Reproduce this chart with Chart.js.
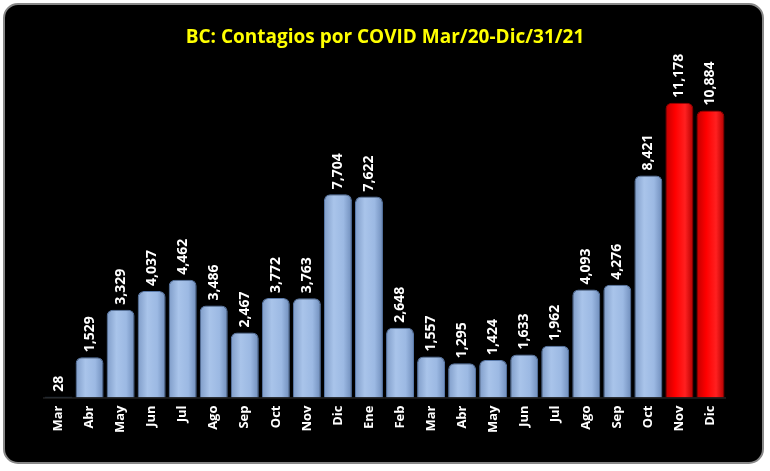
<!DOCTYPE html>
<html><head><meta charset="utf-8">
<script src="https://cdn.jsdelivr.net/npm/chart.js@4/dist/chart.umd.min.js"></script>
<style>html,body{margin:0;padding:0;background:#fff}</style>
</head><body><canvas id="c" width="770" height="471"></canvas>
<script>
const categories=["Mar","Abr","May","Jun","Jul","Ago","Sep","Oct","Nov","Dic","Ene","Feb","Mar","Abr","May","Jun","Jul","Ago","Sep","Oct","Nov","Dic"];
const cases=[28,1529,3329,4037,4462,3486,2467,3772,3763,7704,7622,2648,1557,1295,1424,1633,1962,4093,4276,8421,11178,10884];
const highlighted=[20,21];
const titleText="BC: Contagios por COVID Mar/20-Dic/31/21";

const bg={id:'bg',beforeDraw(ch){const x=ch.ctx;x.save();x.fillStyle='#fff';x.fillRect(0,0,ch.width,ch.height);
x.beginPath();x.roundRect(4,4,759,459,14);x.fillStyle='#000';x.fill();x.lineWidth=2;x.strokeStyle='#888';x.stroke();
x.fillStyle='#ffff00';x.font='bold 19px "Open Sans"';x.textAlign='center';x.textBaseline='middle';x.fillText(titleText,385,38);
const a=ch.chartArea;x.strokeStyle='#333';x.lineWidth=1;x.beginPath();x.moveTo(a.left,a.bottom+0.5);x.lineTo(a.right,a.bottom+0.5);x.stroke();x.restore();}};
const lbl={id:'lbl',afterDatasetsDraw(ch){const x=ch.ctx;const m=ch.getDatasetMeta(0);x.save();x.fillStyle='#fff';x.font='bold 14px "Open Sans"';x.textAlign='left';x.textBaseline='middle';
m.data.forEach((b,i)=>{x.save();x.translate(b.x,b.y-5);x.rotate(-Math.PI/2);x.fillText(cases[i].toLocaleString('en-US'),0,0);x.restore();});x.restore();}};

function fill(ctx){const ch=ctx.chart;const i=ctx.dataIndex;const sc=ch.scales&&ch.scales.x;
const hi=highlighted.includes(i);
if(!ch.chartArea||!sc||i===undefined)return hi?'#ff0000':'#95b3d7';
const cx=sc.getPixelForValue(i);const w=28;if(!isFinite(cx))return hi?'#ff0000':'#95b3d7';
const g=ch.ctx.createLinearGradient(cx-w/2,0,cx+w/2,0);
if(hi){g.addColorStop(0,'#c00000');g.addColorStop(0.35,'#ff0000');g.addColorStop(0.7,'#ff2020');g.addColorStop(1,'#b00000');}
else{g.addColorStop(0,'#7f9cc8');g.addColorStop(0.35,'#a9c4ea');g.addColorStop(0.7,'#9cb9e3');g.addColorStop(1,'#6f8dbb');}return g;}

new Chart(document.getElementById('c'),{type:'bar',
data:{labels:categories,datasets:[{data:cases,backgroundColor:fill,borderColor:ctx=>highlighted.includes(ctx.dataIndex)?'#900':'#5a7aaa',borderWidth:1,borderRadius:{topLeft:6,topRight:6},borderSkipped:'bottom',barPercentage:0.9,categoryPercentage:1}]},
options:{responsive:false,animation:false,devicePixelRatio:1,
layout:{padding:{left:43,right:44,top:81,bottom:30}},
plugins:{legend:{display:false},tooltip:{enabled:false}},
scales:{y:{display:false,min:0,max:12000},
x:{grid:{display:false,drawTicks:false},border:{display:false},ticks:{color:'#fff',font:{family:'"Open Sans"',size:13,weight:'bold'},minRotation:90,maxRotation:90,padding:8}}}},
plugins:[bg,lbl]});
</script></body></html>
